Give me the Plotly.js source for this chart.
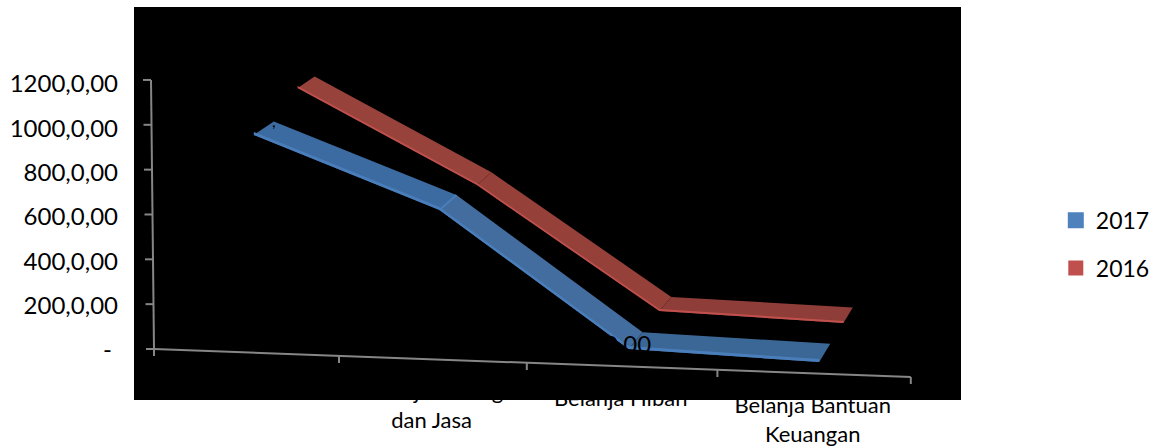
<!DOCTYPE html>
<html>
<head>
<meta charset="utf-8">
<script src="https://cdn.plot.ly/plotly-3.0.1.min.js"></script>
<style>html,body{margin:0;padding:0;background:#fff}#chart{width:1162px;height:448px}</style>
</head>
<body>
<div id="chart"></div>
<script>
const categories = ["", "Belanja Barang<br>dan Jasa", "Belanja Hibah", "Belanja Bantuan<br>Keuangan"];
const values2017 = [940, 633, 41, 10];
const values2016 = [1017, 596, 46, 5];
const yTickValues = [0, 200, 400, 600, 800, 1000, 1200];
const yTickLabels = ["-\u00a0", "200,0,00", "400,0,00", "600,0,00", "800,0,00", "1000,0,00", "1200,0,00"];
const seriesNames = ["2017", "2016"];

const FONT = "Lato, 'Open Sans', sans-serif";
const AXIS = "#868686";
const unit = 266 / 1200;
const toY = px => (350 - px) / unit;

function project(c, val, depth, upPx) {
  const t = c + 0.5;
  const sx = 154 + 185 * t + 1.4 * t * (t - 1) - 3 * val / 1200 + depth * (20 - 3 * c);
  const sy = 349 + 7 * t - val * 0.2242 - depth * (13.5 + 1.6 * c) - (upPx || 0);
  return [sx, toY(sy)];
}
function poly(points, color) {
  const pts = points.concat([points[0]]);
  return {x: pts.map(p => p[0]), y: pts.map(p => p[1]), mode: "lines", fill: "toself",
          fillcolor: color, line: {width: 0, color: color}, showlegend: false, hoverinfo: "skip"};
}
function ribbon(values, front, back, faces, edge, edgePx) {
  const out = [];
  for (let i = 0; i < values.length - 1; i++) {
    out.push(poly([project(i, values[i], front), project(i + 1, values[i + 1], front),
                   project(i + 1, values[i + 1], back), project(i, values[i], back)], faces[i]));
  }
  const low = values.map((v, i) => project(i, v, front));
  const up = values.map((v, i) => project(i, v, front, edgePx));
  out.push(poly(low.concat(up.reverse()), edge));
  return out;
}
function segments(list, color, width) {
  const x = [], y = [];
  list.forEach(s => { x.push(s[0][0], s[1][0], null); y.push(s[0][1], s[1][1], null); });
  return {x, y, mode: "lines", line: {color, width}, showlegend: false, hoverinfo: "skip"};
}

const panel = {x: [134, 961, 961, 134, 134], y: [toY(7), toY(7), toY(400), toY(400), toY(7)], mode: "lines",
  fill: "toself", fillcolor: "#000", line: {width: 0, color: "#000"}, showlegend: false, hoverinfo: "skip"};

const labelTrace = {
  x: categories.map((_, i) => project(i, 0, 0)[0] - 1),
  y: categories.map((_, i) => toY(349 + 7 * (i + 0.5) + 23)),
  text: categories, mode: "text", textposition: "bottom center",
  textfont: {family: FONT, size: 22, color: "#000"}, showlegend: false, hoverinfo: "skip", cliponaxis: false
};

const axisSegs = [[project(-0.5, 0, 0), project(3.5, 0, 0)]];
for (let i = 0; i <= 4; i++) {
  const p = project(i - 0.5, 0, 0);
  axisSegs.push([[p[0], p[1]], [p[0], p[1] - 7 / unit]]);
}
const ySegs = [[project(-0.5, 0, 0), project(-0.5, 1200, 0)],
               [project(-0.5, 0, 0), [project(-0.5, 0, 0)[0], project(-0.5, 0, 0)[1] - 6 / unit]]];
yTickValues.forEach(v => {
  const p = project(-0.5, v, 0);
  ySegs.push([[p[0] - 8, p[1]], p]);
});

const backD = 1.5, frontD = 0.5, redFront = 2.7, redBack = 3.55;
const traces = [
  labelTrace, panel,
  segments(axisSegs, AXIS, 2), segments(ySegs, AXIS, 2),
  ...ribbon(values2016, redFront, redBack, ["#98423c", "#96403a", "#8f3d38"], "#c0504d", 2),
  ...ribbon(values2017, frontD, backD, ["#3c6ba1", "#436d9f", "#3b6796"], "#4a7ebb", 3),
  segments([[project(1, values2017[1], frontD), project(1, values2017[1], backD)]], "#4a7ebb", 2),
  {x: [null], y: [null], name: seriesNames[0], legendgroup: "a", mode: "markers", marker: {symbol: "square", size: 16, color: "#4f81bd"}, hoverinfo: "skip"},
  {x: [null], y: [null], name: seriesNames[1], legendgroup: "b", mode: "markers", marker: {symbol: "square", size: 15, color: "#c0504d"}, hoverinfo: "skip"}
];

const layout = {
  width: 1162, height: 448,
  margin: {l: 134, r: 0, t: 7, b: 0},
  paper_bgcolor: "#fff", plot_bgcolor: "#fff",
  hovermode: false,
  font: {family: FONT, color: "#000"},
  xaxis: {range: [134, 1162], visible: false, fixedrange: true},
  yaxis: {range: [toY(448), toY(7)], tickmode: "array", tickvals: yTickValues, ticktext: yTickLabels,
          showgrid: false, zeroline: false, showline: false, ticks: "", ticklabelstandoff: 15,
          tickfont: {family: FONT, size: 24, color: "#000"}, fixedrange: true},
  legend: {x: 0.993, y: 0.462, xanchor: "right", yanchor: "middle", traceorder: "grouped", tracegroupgap: 15,
           font: {family: FONT, size: 23, color: "#000"}, bgcolor: "rgba(0,0,0,0)", itemsizing: "trace"},
  annotations: [
    {x: project(2, values2017[2], backD)[0], y: toY(343), xanchor: "right", xshift: 10, showarrow: false,
     text: "0,00", font: {family: FONT, size: 24, color: "#000"}},
    {x: project(0, values2017[0], backD)[0], y: toY(120), xanchor: "center", showarrow: false,
     text: ",", font: {family: FONT, size: 16, color: "#000"}}
  ]
};
Plotly.newPlot("chart", traces, layout, {displayModeBar: false, responsive: false});
</script>
</body>
</html>
